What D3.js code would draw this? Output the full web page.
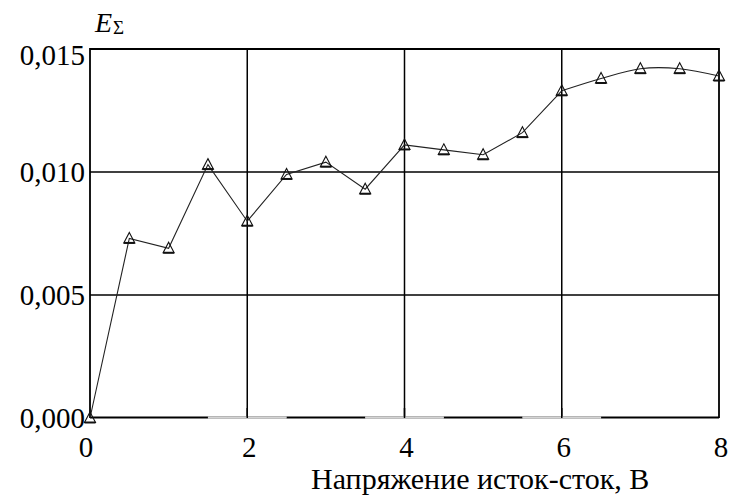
<!DOCTYPE html>
<html>
<head>
<meta charset="utf-8">
<script src="https://cdn.jsdelivr.net/npm/d3@7"></script>
<style>
  html, body { margin: 0; padding: 0; background: #fff; }
  svg { display: block; }
</style>
</head>
<body>
<svg id="chart" width="731" height="495"></svg>
<script>
// Drain–source voltage, V
const voltage = [0, 0.5, 1, 1.5, 2, 2.5, 3, 3.5, 4, 4.5, 5, 5.5, 6, 6.5, 7, 7.5, 8];
// Total error E_Σ
const errorSum = [0.0000, 0.0073, 0.0069, 0.0103, 0.0080, 0.0099, 0.0104, 0.0093,
                  0.0111, 0.0109, 0.0107, 0.0116, 0.0133, 0.0138, 0.0142, 0.0142, 0.0139];
const xTicks = [0, 2, 4, 6, 8];
const yTicks = [0, 0.005, 0.010, 0.015];
const xTitle = "Напряжение исток-сток, В";

// pick the first installed serif face
function pickSerif() {
  const cands = ["Liberation Serif", "DejaVu Serif", "Tinos", "Times New Roman", "Noto Serif",
                 "FreeSerif", "Nimbus Roman", "Times"];
  const ctx = document.createElement("canvas").getContext("2d");
  const probe = "0,015 Напряжение mmmWWWiii";
  const w = f => { ctx.font = "40px " + f; return ctx.measureText(probe).width; };
  const baseM = w("monospace"), baseS = w("sans-serif");
  for (const c of cands) {
    if (w(`'${c}', monospace`) !== baseM || w(`'${c}', sans-serif`) !== baseS) return `'${c}', serif`;
  }
  return "serif";
}
const FONT = pickSerif();

const svg = d3.select("#chart");
const x = d3.scaleLinear().domain([0, 8]).range([90, 719]);
const y = d3.scaleLinear().domain([0, 0.015]).range([418, 49]);
const fmtY = v => d3.format(".3f")(v).replace(".", ",");

const pts = voltage.map((v, i) => ({ v, e: errorSum[i] }));

// grid lines
const g = svg.append("g");
g.selectAll("line.gx").data(xTicks.slice(1, -1)).join("line")
  .attr("x1", d => x(d)).attr("x2", d => x(d))
  .attr("y1", y(0.015)).attr("y2", y(0))
  .attr("stroke", "#000").attr("stroke-width", 1.5);
g.selectAll("line.gy").data(yTicks.slice(1, -1)).join("line")
  .attr("x1", x(0)).attr("x2", x(8))
  .attr("y1", d => y(d)).attr("y2", d => y(d))
  .attr("stroke", "#000").attr("stroke-width", 1.5);

// frame: top, left, right
g.append("path")
  .attr("d", `M${x(0)},${y(0)}V${y(0.015)}H${x(8)}V${y(0)}`)
  .attr("fill", "none").attr("stroke", "#000").attr("stroke-width", 1.8);

// bottom edge, lightened under the inner tick labels
g.append("line")
  .attr("x1", x(0)).attr("x2", x(8)).attr("y1", y(0) - 0.5).attr("y2", y(0) - 0.5)
  .attr("stroke", "#000").attr("stroke-width", 1.8);
g.selectAll("line.gap").data(xTicks.slice(1, -1)).join("line")
  .attr("x1", d => x(d - 0.5)).attr("x2", d => x(d + 0.5))
  .attr("y1", y(0) - 0.5).attr("y2", y(0) - 0.5)
  .attr("stroke", "#fff").attr("stroke-width", 2.2);
g.selectAll("line.gap2").data(xTicks.slice(1, -1)).join("line")
  .attr("x1", d => x(d - 0.5)).attr("x2", d => x(d + 0.5))
  .attr("y1", y(0) - 1).attr("y2", y(0) - 1)
  .attr("stroke", "#aaa").attr("stroke-width", 1);
g.selectAll("line.gx2").data(xTicks.slice(1, -1)).join("line")
  .attr("x1", d => x(d)).attr("x2", d => x(d))
  .attr("y1", y(0) - 10).attr("y2", y(0))
  .attr("stroke", "#000").attr("stroke-width", 1.5);

// data line: straight segments up to 6 V, smoothed beyond
const lineLin = d3.line().x(d => x(d.v)).y(d => y(d.e)).curve(d3.curveLinear);
const lineSmooth = d3.line().x(d => x(d.v)).y(d => y(d.e)).curve(d3.curveCatmullRom);
g.append("path").attr("d", lineLin(pts.filter(d => d.v <= 6)))
  .attr("fill", "none").attr("stroke", "#222").attr("stroke-width", 1.1);
g.append("path").attr("d", lineSmooth(pts.filter(d => d.v >= 6)))
  .attr("fill", "none").attr("stroke", "#222").attr("stroke-width", 1.1);

// triangle markers
g.selectAll("path.m").data(pts).join("path")
  .attr("transform", d => `translate(${x(d.v)},${y(d.e)})`)
  .attr("d", "M0,-6L5.5,4.5L-5.5,4.5Z")
  .attr("fill", "none").attr("stroke", "#111").attr("stroke-width", 1.1);
g.selectAll("line.mb").data(pts).join("line")
  .attr("x1", d => x(d.v) - 5.5).attr("x2", d => x(d.v) + 5.5)
  .attr("y1", d => y(d.e) + 4.5).attr("y2", d => y(d.e) + 4.5)
  .attr("stroke", "#111").attr("stroke-width", 2);

// y tick labels (the top one sits just inside the frame)
svg.selectAll("text.yt").data(yTicks).join("text")
  .attr("x", 85).attr("y", d => d === 0.015 ? y(d) + 16 : y(d) + 10)
  .attr("text-anchor", "end").attr("font-family", FONT).attr("font-size", 29)
  .text(fmtY);

// x tick labels
svg.selectAll("text.xt").data(xTicks).join("text")
  .attr("x", d => x(d) + (d === 0 ? -4 : 2)).attr("y", 457)
  .attr("text-anchor", "middle").attr("font-family", FONT).attr("font-size", 29)
  .text(d => d);

// axis titles
svg.append("text").attr("x", 311).attr("y", 489)
  .attr("font-family", FONT).attr("font-size", 30).text(xTitle);
const yt = svg.append("text").attr("x", 95).attr("y", 32)
  .attr("font-family", FONT).attr("font-size", 28);
yt.append("tspan").attr("font-style", "italic").text("E");
yt.append("tspan").attr("font-size", 19).attr("dx", 1).attr("dy", 2).text("Σ");
</script>
</body>
</html>
